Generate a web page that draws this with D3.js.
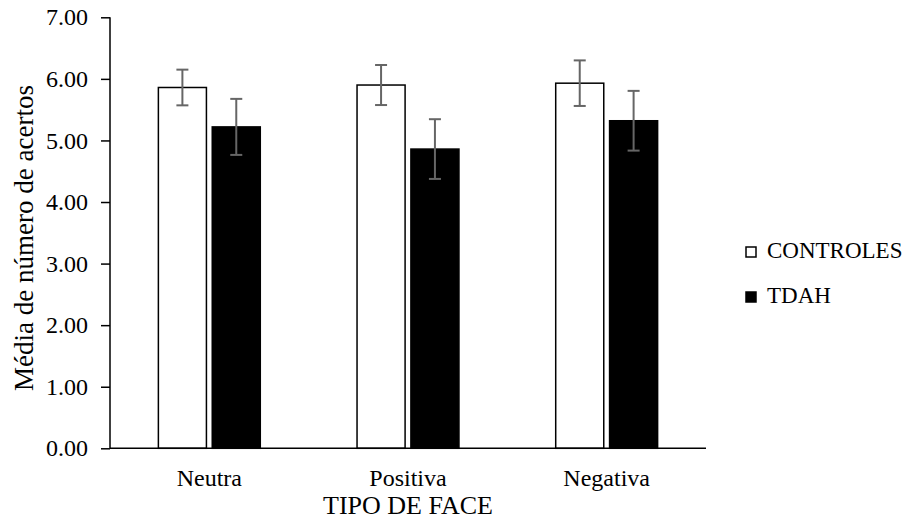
<!DOCTYPE html>
<html lang="en">
<head>
    <meta charset="UTF-8">
    <title>Tipo de face</title>
    <style>
        body { margin: 0; background: #fff; }
        text { font-family: "Liberation Serif", "Times New Roman", serif; fill: #000; }
    </style>
    <script src="https://d3js.org/d3.v7.min.js"></script>
</head>
<body>
<svg id="chart" width="908" height="527"></svg>

<script>
    // data
    const categories = ["Neutra", "Positiva", "Negativa"];
    const groups = ["CONTROLES", "TDAH"];
    const controles = [5.86, 5.90, 5.93];
    const controlesErr = [0.29, 0.325, 0.37];
    const tdah = [5.22, 4.86, 5.32];
    const tdahErr = [0.455, 0.485, 0.485];
    const yTicks = [0, 1, 2, 3, 4, 5, 6, 7];

    const rows = [];
    categories.forEach(function (c, i) {
        rows.push({ cat: c, group: groups[0], v: controles[i], e: controlesErr[i] });
        rows.push({ cat: c, group: groups[1], v: tdah[i], e: tdahErr[i] });
    });

    const svg = d3.select("#chart");
    const mLeft = 110, mRight = 706, mTop = 17.3, mBottom = 448.3;

    const y = d3.scaleLinear().domain([0, 7]).range([mBottom, mTop]);
    const x = d3.scaleBand().domain(categories).range([mLeft, mRight])
        .paddingInner(0.487).paddingOuter(0.2435);
    const xs = d3.scaleBand().domain(groups).range([0, x.bandwidth()]).paddingInner(0.108);
    const fill = d3.scaleOrdinal().domain(groups).range(["#ffffff", "#000000"]);

    // y axis
    const yAxis = svg.append("g")
        .attr("transform", "translate(" + mLeft + ",0)")
        .call(d3.axisLeft(y).tickValues(yTicks).tickFormat(d3.format(".2f")).tickSize(9).tickPadding(13));
    yAxis.select(".domain").attr("stroke", "#000").attr("stroke-width", 1.5).attr("d", "M0," + mTop + "V" + mBottom);
    yAxis.selectAll(".tick line").attr("stroke", "#000").attr("stroke-width", 1.5);
    yAxis.selectAll(".tick text").attr("font-size", 24).attr("font-family", "Liberation Serif");

    // bars
    svg.append("g").selectAll("rect").data(rows).join("rect")
        .attr("x", d => x(d.cat) + xs(d.group))
        .attr("y", d => y(d.v))
        .attr("width", xs.bandwidth())
        .attr("height", d => y(0) - y(d.v))
        .attr("fill", d => fill(d.group))
        .attr("stroke", "#000")
        .attr("stroke-width", 1.5);

    // error bars
    const eb = svg.append("g").attr("stroke", "#666").attr("stroke-width", 2);
    rows.forEach(function (d) {
        const cx = x(d.cat) + xs(d.group) + xs.bandwidth() / 2;
        eb.append("line").attr("x1", cx).attr("x2", cx).attr("y1", y(d.v + d.e)).attr("y2", y(d.v - d.e));
        eb.append("line").attr("x1", cx - 6).attr("x2", cx + 6).attr("y1", y(d.v + d.e)).attr("y2", y(d.v + d.e));
        eb.append("line").attr("x1", cx - 6).attr("x2", cx + 6).attr("y1", y(d.v - d.e)).attr("y2", y(d.v - d.e));
    });

    // x baseline and labels
    svg.append("line").attr("x1", mLeft).attr("x2", mRight).attr("y1", mBottom).attr("y2", mBottom)
        .attr("stroke", "#000").attr("stroke-width", 1.5);
    svg.append("g").selectAll("text").data(categories).join("text")
        .attr("x", d => x(d) + x.bandwidth() / 2)
        .attr("y", 486)
        .attr("text-anchor", "middle")
        .attr("font-size", 24)
        .text(d => d);

    svg.append("text")
        .attr("x", (mLeft + mRight) / 2).attr("y", 514)
        .attr("text-anchor", "middle").attr("font-size", 26)
        .text("TIPO DE FACE");

    svg.append("text")
        .attr("transform", "translate(33,238) rotate(-90)")
        .attr("text-anchor", "middle").attr("font-size", 27)
        .text("Média de número de acertos");

    // legend
    const legend = svg.append("g").selectAll("g").data(groups).join("g")
        .attr("transform", (d, i) => "translate(746," + (247 + i * 45) + ")");
    legend.append("rect").attr("width", 10).attr("height", 10)
        .attr("fill", d => fill(d)).attr("stroke", "#000").attr("stroke-width", 1.5);
    legend.append("text").attr("x", 21).attr("y", 11).attr("font-size", 23).text(d => d);
</script>
</body>
</html>
